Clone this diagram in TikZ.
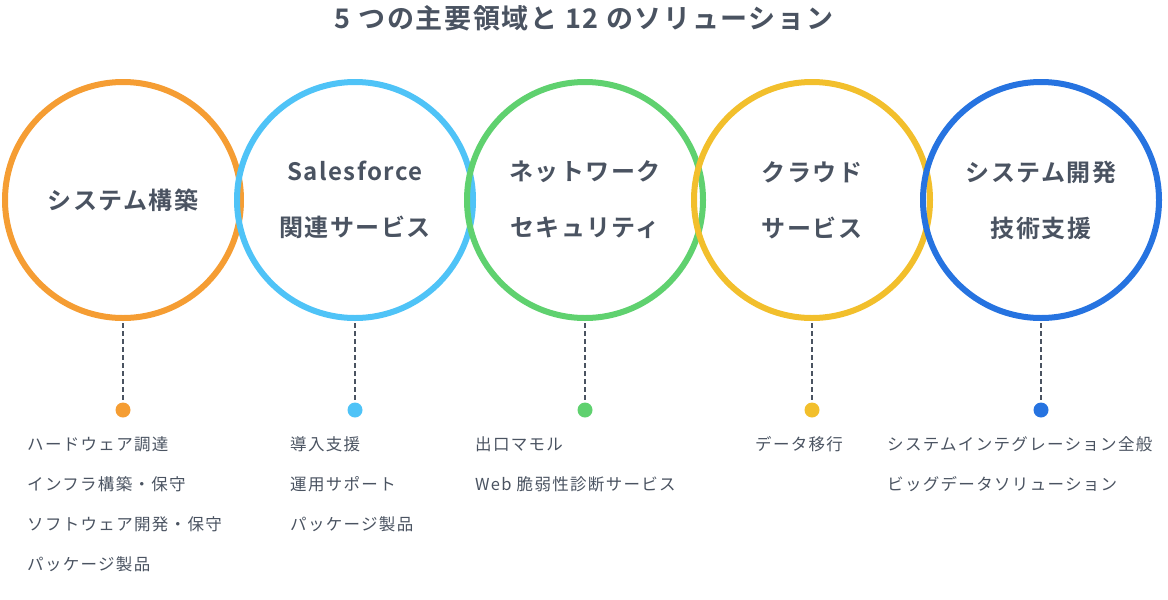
\documentclass[tikz,border=0pt]{standalone}
\usepackage{fontspec}
\setmainfont{Noto Sans CJK JP}
\newfontfamily\boldjp[LetterSpace=6]{Noto Sans CJK JP Bold}
\newfontfamily\itemjp[LetterSpace=8]{Noto Sans CJK JP}
\usepackage{tikz}
\usetikzlibrary{positioning}
\definecolor{txtgray}{HTML}{4A5361}
\definecolor{ringorange}{HTML}{F59D33}
\definecolor{ringsky}{HTML}{4FC3F7}
\definecolor{ringgreen}{HTML}{5FD16F}
\definecolor{ringyellow}{HTML}{F2BF2C}
\definecolor{ringblue}{HTML}{2673E0}
\tikzset{
  ring/.style={circle,line width=6pt,minimum size=236pt,inner sep=0pt},
  ringlabel/.style={text=txtgray,font=\boldjp\fontsize{24}{56}\selectfont,align=center},
  stem/.style={dash pattern=on 5pt off 3pt,line width=1.2pt,color=txtgray},
  itemtext/.style={anchor=west,inner sep=0pt,text=txtgray,font=\itemjp\fontsize{16.5}{20}\selectfont},
}
\begin{document}
\begin{tikzpicture}[x=1pt,y=-1pt]
\useasboundingbox (0,0) rectangle (1168,600);

% title
\node[text=txtgray,font=\boldjp\fontsize{27}{30}\selectfont] (title) at (584,18) {5 つの主要領域と 12 のソリューション};

% rings
\foreach \name/\cx/\col in {sys/123/ringorange,sf/355/ringsky,net/585/ringgreen,cld/812/ringyellow,dev/1041/ringblue}{
  \node[ring,draw=\col] (\name) at (\cx,200) {};
  \coordinate (\name top) at (\cx,323);
  \node[circle,fill=\col,minimum size=15pt,inner sep=0pt] (\name dot) at (\cx,410) {};
  \draw[stem] (\name top) -- (\name dot);
}

% ring labels
\node[ringlabel] (syslbl) at (sys) {システム構築};
\node[ringlabel] (sflbl) at (sf) {Salesforce\\関連サービス};
\node[ringlabel] (netlbl) at (net) {ネットワーク\\セキュリティ};
\node[ringlabel] (cldlbl) at (cld) {クラウド\\サービス};
\node[ringlabel] (devlbl) at (dev) {システム開発\\技術支援};

% item lists
\node[itemtext] (sys1) at (27,444) {ハードウェア調達};
\node[itemtext] (sys2) at (27,484) {インフラ構築・保守};
\node[itemtext] (sys3) at (27,524) {ソフトウェア開発・保守};
\node[itemtext] (sys4) at (27,564) {パッケージ製品};
\node[itemtext] (sf1) at (290,444) {導入支援};
\node[itemtext] (sf2) at (290,484) {運用サポート};
\node[itemtext] (sf3) at (290,524) {パッケージ製品};
\node[itemtext] (net1) at (475,444) {出口マモル};
\node[itemtext] (net2) at (475,484) {Web 脆弱性診断サービス};
\node[itemtext] (cld1) at (755,444) {データ移行};
\node[itemtext] (dev1) at (887,444) {システムインテグレーション全般};
\node[itemtext] (dev2) at (887,484) {ビッグデータソリューション};
\end{tikzpicture}
\end{document}
